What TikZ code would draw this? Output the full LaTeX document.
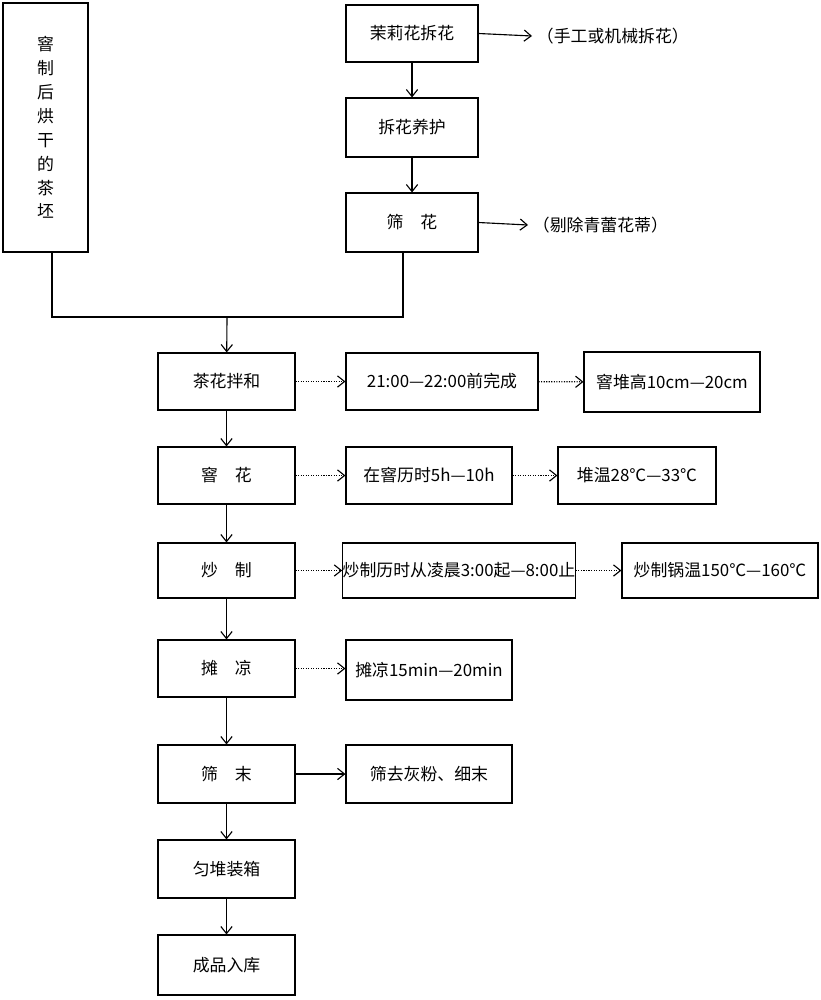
\documentclass[tikz,border=0pt]{standalone}
\usepackage{fontspec}
\setmainfont{Noto Sans CJK SC}
\usetikzlibrary{arrows.meta,calc}
\tikzset{
	stepbox/.style={draw, thick, inner sep=0pt, font=\large},
	flow/.style={thick, -{Straight Barb[length=5pt,width=8pt]}},
	dflow/.style={densely dotted, thick, -{Straight Barb[length=5pt,width=8pt]}}
}
\newcommand{\pbox}[6]{
	\node[stepbox, minimum width=#4*0.025cm, minimum height=#5*0.025cm] (#1) at (#2,#3) {#6};
}
\begin{document}
\begin{tikzpicture}[x=0.025cm, y=-0.025cm]
	\useasboundingbox (0,0) rectangle (821,1000);
	\node[stepbox, minimum width=85*0.025cm, minimum height=249*0.025cm, align=center] (tea) at (45.5,127.5) {窨\\[3pt]制\\[3pt]后\\[3pt]烘\\[3pt]干\\[3pt]的\\[3pt]茶\\[3pt]坯};
	\pbox{pick}{412}{33.5}{132}{57}{茉莉花拆花}
	\pbox{care}{412}{127.5}{132}{59}{拆花养护}
	\pbox{sift}{412}{222.5}{132}{59}{筛\quad 花}
	\node[font=\large, anchor=west] (pickn) at (532,36) {（手工或机械拆花）};
	\node[font=\large, anchor=west] (siftn) at (528,225) {（剔除青蕾花蒂）};
	\draw[flow] (pick) -- (care);
	\draw[flow] (care) -- (sift);
	\draw[flow] (pick.east) -- (pickn.west);
	\draw[flow] (sift.east) -- (siftn.west);
	% main column
	\pbox{mix}{226.5}{381.5}{137}{57}{茶花拌和}
	\pbox{scent}{226.5}{475.5}{137}{57}{窨\quad 花}
	\pbox{fry}{226.5}{570.5}{137}{55}{炒\quad 制}
	\pbox{cool}{226.5}{668.5}{137}{57}{摊\quad 凉}
	\pbox{sieve}{226.5}{774}{137}{58}{筛\quad 末}
	\pbox{pack}{226.5}{869}{137}{58}{匀堆装箱}
	\pbox{store}{226.5}{965}{137}{60}{成品入库}
	\coordinate (join) at (227,317);
	\draw[thick] (tea.south -| 52,0) |- (join) -| (403,0 |- sift.south);
	\draw[flow] (join) -- (mix);
	\draw[flow] (mix) -- (scent);
	\draw[flow] (scent) -- (fry);
	\draw[flow] (fry) -- (cool);
	\draw[flow] (cool) -- (sieve);
	\draw[flow] (sieve) -- (pack);
	\draw[flow] (pack) -- (store);
	% side notes
	\pbox{mixa}{442}{381.5}{192}{57}{21:00—22:00前完成}
	\pbox{mixb}{672}{382}{176}{60}{窨堆高10cm—20cm}
	\pbox{scenta}{429}{475.5}{166}{57}{在窨历时5h—10h}
	\pbox{scentb}{637}{475.5}{158}{57}{堆温28℃—33℃}
	\pbox{frya}{459}{570.5}{226}{55}{炒制历时从凌晨3:00起—8:00止}
	\pbox{fryb}{720}{570.5}{196}{55}{炒制锅温150℃—160℃}
	\pbox{coola}{429}{670}{166}{60}{摊凉15min—20min}
	\pbox{sievea}{429}{774}{166}{58}{筛去灰粉、细末}
	\draw[dflow] (mix) -- (mixa);
	\draw[dflow] (mixa) -- (mixb);
	\draw[dflow] (scent) -- (scenta);
	\draw[dflow] (scenta) -- (scentb);
	\draw[dflow] (fry) -- (frya);
	\draw[dflow] (frya) -- (fryb);
	\draw[dflow] (cool.east) -- (coola.west |- cool.east);
	\draw[flow] (sieve) -- (sievea);
\end{tikzpicture}
\end{document}
